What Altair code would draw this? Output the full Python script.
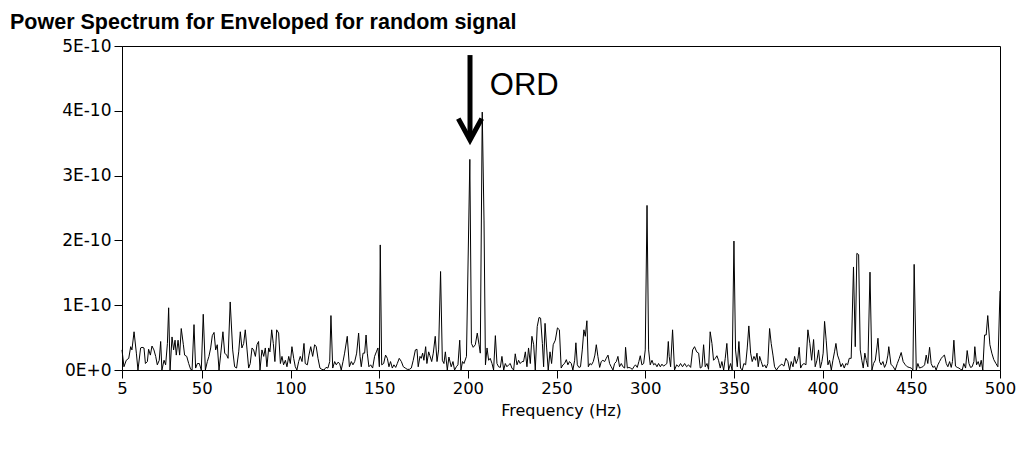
import altair as alt
import pandas as pd

title_text = "Power Spectrum for Enveloped for random signal"
x_title = "Frequency (Hz)"
x_ticks = [5, 50, 100, 150, 200, 250, 300, 350, 400, 450, 500]
y_ticks = [0, 1e-10, 2e-10, 3e-10, 4e-10, 5e-10]
unit = 1e-11  # spectrum values below are in units of 1E-11

seg_a = [(5.0, 3.1), (6.1, 0.5), (7.4, 1.5), (8.8, 1.8), (9.9, 3.6), (10.6, 3.1), (11.8, 5.9), (13.1, 2.6),
         (14.0, 0.0), (15.5, 3.4), (16.3, 3.5), (17.4, 3.4), (18.2, 1.0), (19.3, 1.3), (20.0, 3.2), (21.0, 2.3),
         (21.9, 3.7), (23.0, 3.1), (24.0, 2.1), (24.9, 0.8), (26.0, 1.5), (26.8, 4.4), (27.5, 0.0), (28.7, 1.5),
         (29.6, 0.8), (30.6, 4.1), (31.3, 9.6), (32.1, 0.0), (33.2, 5.1), (34.1, 3.1), (34.9, 4.6), (35.6, 2.3),
         (36.6, 4.6), (37.5, 2.3), (38.4, 6.4), (39.6, 3.9), (40.3, 2.3), (41.5, 2.1), (42.6, 1.0), (43.7, 0.1),
         (44.5, 0.0), (45.6, 7.0), (46.5, 0.3), (47.5, 1.0), (48.6, 1.0), (49.7, 0.0), (50.8, 8.6), (52.0, 0.0),
         (53.1, 1.3), (54.0, 2.1), (55.0, 3.4), (55.9, 5.3), (56.9, 5.8), (57.8, 3.1), (58.7, 3.9), (59.7, 0.0),
         (60.6, 2.3), (61.9, 5.9), (62.9, 2.6), (64.0, 2.3), (64.8, 1.8), (66.0, 10.5)]

seg_b = [(67.4, 3.1), (68.5, 0.5), (69.6, 0.3), (70.8, 2.8), (71.7, 5.9), (72.6, 3.4), (73.6, 4.1), (74.5, 6.2),
         (75.5, 3.1), (76.4, 0.3), (77.3, 1.0), (78.3, 3.4), (79.2, 3.1), (80.2, 2.1), (81.1, 3.9), (82.0, 4.4),
         (82.8, 0.0), (83.9, 3.1), (84.9, 2.1), (85.8, 3.4), (86.7, 0.5), (87.7, 3.4), (88.4, 2.8), (89.4, 6.2),
         (90.3, 4.1), (91.2, 1.3), (92.2, 6.2), (93.3, 5.7), (94.3, 1.0), (95.2, 2.1), (96.1, 0.8), (97.1, 1.5),
         (98.0, 0.5), (99.0, 2.1), (99.9, 1.0), (100.8, 3.6), (101.8, 1.8), (102.7, 0.5), (103.6, 0.0), (104.6, 1.3),
         (105.5, 2.1), (106.5, 1.3), (107.6, 4.1), (108.3, 1.0), (109.5, 0.8), (110.4, 2.3), (111.4, 3.6),
         (112.5, 2.1), (113.6, 3.9), (114.5, 3.6), (115.5, 1.8), (116.6, 0.3), (117.7, 0.1), (118.9, 0.0),
         (120.0, 0.4), (121.1, 0.3), (122.1, 1.3), (122.8, 8.4), (123.8, 0.3), (124.9, 1.3), (125.8, 0.8)]

seg_c = [(126.8, 1.2), (127.7, 1.0), (128.6, 0.0), (129.6, 1.3), (130.5, 2.6), (132.0, 5.2), (133.2, 0.5),
         (134.3, 1.3), (135.2, 0.8), (136.2, 1.3), (137.3, 2.6), (138.4, 5.7), (139.2, 2.1), (139.9, 0.5),
         (140.9, 2.6), (141.8, 2.6), (142.6, 5.4), (143.3, 2.6), (144.2, 0.5), (145.2, 0.8), (146.3, 0.3),
         (147.4, 2.1), (148.4, 2.8), (149.3, 3.4), (150.1, 0.5), (150.6, 19.3), (151.4, 0.8), (152.5, 1.0),
         (153.6, 2.3), (154.6, 1.8), (155.5, 0.5), (156.4, 1.3), (157.4, 0.3), (158.3, 0.8), (159.3, 0.4),
         (160.2, 1.0), (161.3, 1.8), (162.5, 1.3), (163.6, 0.5), (164.7, 0.3), (165.8, 0.1), (167.0, 0.1),
         (168.1, 0.3), (169.2, 1.5), (170.4, 3.1), (171.3, 3.2), (172.0, 0.5), (173.0, 2.1), (173.7, 1.8),
         (174.5, 2.6), (175.2, 1.5), (176.2, 3.6), (176.9, 1.0), (177.9, 2.8), (178.6, 2.2), (179.6, 1.3),
         (180.5, 2.6), (181.6, 5.2), (182.6, 1.3), (183.5, 3.1), (184.6, 15.2), (185.6, 1.5), (186.5, 1.0),
         (187.3, 2.8), (188.4, 0.0)]

seg_d = [(189.3, 2.0), (190.6, 0.5), (191.6, 1.3), (192.5, 0.0), (193.5, 0.5), (194.4, 0.8), (195.4, 4.6),
         (196.1, 0.0), (197.0, 1.3), (197.8, 1.0), (199.2, 2.1), (201.1, 32.5), (202.0, 4.1), (203.0, 3.5),
         (204.2, 3.9), (205.3, 5.7), (206.3, 3.9), (207.0, 2.6), (208.1, 39.8), (209.1, 23.0), (209.9, 0.8),
         (210.8, 3.4), (211.7, 1.5), (212.6, 1.8), (213.6, 1.0), (214.5, 0.0), (215.5, 5.3), (216.4, 1.0),
         (217.3, 0.5), (218.3, 0.4), (219.2, 2.1), (220.2, 0.0), (221.1, 1.0), (222.0, 0.5), (223.0, 0.8),
         (223.9, 1.0), (224.8, 0.3), (225.8, 0.0), (226.7, 2.5), (227.7, 0.8), (228.6, 1.5), (229.5, 1.0),
         (230.5, 1.3), (231.4, 1.3), (232.4, 2.8), (233.3, 0.5), (234.2, 3.4), (235.2, 1.0), (236.1, 5.2),
         (237.1, 3.9), (238.0, 0.0), (239.1, 6.7), (240.1, 8.1), (241.0, 8.0), (242.0, 4.1), (242.7, 0.5),
         (243.5, 7.2), (244.4, 3.4), (245.3, 0.0), (246.3, 2.8), (247.2, 1.0), (248.1, 3.9), (249.3, 4.6)]

seg_e = [(250.5, 6.5), (251.6, 6.2), (252.6, 0.3), (253.6, 0.8), (254.5, 1.0), (255.5, 1.6), (256.4, 0.8),
         (257.3, 1.3), (258.3, 1.0), (259.2, 0.0), (260.2, 1.5), (260.9, 4.2), (261.7, 0.8), (262.6, 0.4),
         (263.5, 0.5), (264.5, 3.1), (265.4, 6.2), (266.2, 5.2), (267.1, 7.6), (267.9, 0.5), (268.8, 1.0),
         (269.7, 0.8), (270.7, 1.3), (271.6, 2.3), (272.4, 3.9), (273.3, 2.1), (274.3, 0.4), (275.2, 1.3),
         (276.1, 1.5), (277.1, 1.3), (278.0, 1.8), (279.0, 2.3), (279.9, 1.0), (280.8, 0.5), (281.8, 0.0),
         (282.7, 1.0), (283.7, 1.3), (284.6, 2.1), (285.5, 0.5), (286.5, 1.0), (287.4, 0.5), (288.4, 0.3),
         (288.9, 3.5), (289.9, 0.3), (290.8, 0.4), (291.7, 0.3), (292.7, 0.1), (293.6, 0.5), (294.5, 0.8),
         (295.5, 0.4), (296.4, 1.3), (297.2, 2.2), (298.1, 0.8), (299.1, 1.0), (300.0, 3.1), (301.0, 25.4),
         (301.9, 3.1), (302.8, 0.8), (303.8, 1.5), (304.7, 0.8), (305.6, 1.0), (306.6, 0.5), (307.5, 1.0),
         (308.5, 0.5), (309.4, 0.9), (310.3, 0.6), (311.3, 0.8), (312.2, 1.0), (313.0, 4.4)]

seg_f = [(313.5, 2.1), (314.3, 0.5), (315.4, 6.2), (316.5, 0.0), (317.7, 0.8), (318.8, 0.5), (319.9, 1.0),
         (321.0, 0.5), (322.2, 1.0), (323.3, 0.5), (324.4, 0.8), (325.6, 0.4), (326.7, 3.1), (327.8, 3.6),
         (329.0, 2.8), (330.1, 2.6), (331.0, 0.3), (332.0, 0.5), (332.9, 3.9), (333.8, 0.5), (334.8, 1.0),
         (335.7, 0.1), (336.6, 5.9), (337.6, 4.1), (338.5, 1.5), (339.5, 1.8), (340.4, 2.2), (341.3, 1.5),
         (342.3, 0.3), (343.2, 1.3), (344.2, 0.0), (345.1, 1.8), (346.0, 4.1), (347.0, 0.0), (348.1, 1.0),
         (349.0, 0.0), (350.0, 19.9), (350.9, 3.1), (351.9, 0.5), (352.8, 4.4), (353.7, 0.3), (354.7, 0.0),
         (355.6, 1.0), (356.6, 0.8), (357.5, 3.4), (358.4, 6.8), (359.4, 2.6), (360.3, 1.3), (361.3, 2.1),
         (362.2, 1.5), (363.0, 2.6), (363.7, 0.5), (364.5, 2.1), (365.4, 1.3), (366.3, 0.5), (367.3, 0.8),
         (368.2, 0.3), (369.1, 1.0), (370.1, 6.4), (371.0, 4.1), (372.0, 2.3), (372.9, 0.5), (374.0, 0.0)]

seg_g = [(375.5, 0.6), (377.0, 0.9), (378.2, 0.6), (379.3, 1.8), (380.4, 1.3), (381.4, 0.0), (382.3, 1.3),
         (383.3, 0.5), (384.2, 2.1), (385.1, 1.0), (386.1, 1.8), (386.8, 3.5), (387.6, 0.3), (388.5, 0.8),
         (389.5, 1.0), (390.6, 0.8), (391.7, 6.2), (392.8, 4.1), (393.8, 1.5), (394.9, 4.7), (395.8, 0.5),
         (396.8, 1.5), (397.7, 3.1), (398.7, 0.3), (399.6, 1.3), (400.3, 2.6), (401.1, 7.5), (402.0, 4.6),
         (403.0, 0.8), (403.9, 1.5), (404.9, 0.0), (405.8, 1.5), (406.7, 2.8), (407.5, 4.1), (408.4, 2.3),
         (409.4, 1.5), (410.3, 0.5), (411.2, 1.0), (412.2, 0.3), (413.1, 1.0), (414.1, 0.8), (415.0, 1.8),
         (416.1, 1.8), (417.4, 15.9), (418.4, 3.6), (419.3, 18.0), (420.3, 17.8), (421.2, 3.1), (422.1, 1.5),
         (422.9, 0.3), (423.8, 2.6), (424.6, 1.5), (425.5, 0.5), (426.7, 15.1), (427.8, 0.0), (428.7, 1.0),
         (429.7, 1.5), (430.6, 3.4), (431.2, 4.9), (432.1, 1.3), (433.0, 0.8), (434.0, 1.3), (434.9, 0.4),
         (435.9, 1.0), (436.8, 2.3)]

seg_h = [(437.3, 3.6), (438.5, 0.9), (439.8, 0.5), (440.9, 0.0), (442.1, 1.0), (443.2, 1.8), (444.3, 2.7),
         (445.4, 1.3), (446.6, 0.8), (447.7, 0.5), (448.8, 0.4), (450.0, 0.3), (450.9, 0.0), (451.6, 16.3),
         (452.8, 0.0), (453.7, 1.0), (454.6, 0.3), (455.6, 0.4), (456.5, 0.5), (457.5, 0.8), (458.4, 2.3),
         (459.3, 1.0), (460.3, 3.5), (461.2, 1.0), (462.2, 0.4), (463.1, 0.6), (464.0, 0.0), (465.0, 0.8),
         (465.9, 1.3), (466.9, 1.8), (467.8, 2.1), (468.7, 2.3), (469.7, 1.0), (470.6, 0.5), (471.6, 1.3),
         (472.5, 0.4), (473.2, 1.3), (474.0, 4.6), (474.9, 0.6), (475.9, 0.4), (476.8, 0.3), (477.8, 0.1),
         (478.7, 0.0), (479.6, 1.0), (480.6, 0.3), (481.5, 3.0), (482.5, 1.0), (483.4, 0.4), (484.3, 0.5),
         (485.3, 1.3), (485.8, 3.6), (486.8, 0.8), (487.7, 1.3), (488.6, 0.5), (489.4, 1.5), (490.3, 0.0),
         (491.3, 5.4), (492.2, 5.4), (493.1, 8.4), (494.3, 3.9), (495.4, 2.6), (496.5, 1.6), (497.7, 1.0),
         (498.8, 0.5), (500.0, 12.2)]

# annotation: arrow (shaft top/tip, arrowhead wings) and label, in data units
arrow_shaft_x = [201.2]
arrow_shaft_top = [4.86e-10]
arrow_shaft_tip = [3.58e-10]
arrow_head_x = [194.6, 201.2, 207.8]
arrow_head_y = [3.88e-10, 3.55e-10, 3.88e-10]
ord_label = ["ORD"]
ord_x = [212.4]
ord_y = [4.24e-10]

segments = [seg_a, seg_b, seg_c, seg_d, seg_e, seg_f, seg_g, seg_h]
rows = [(f, p * unit) for seg in segments for f, p in seg]
df = pd.DataFrame(rows, columns=["freq", "power"])

shaft_df = pd.DataFrame({"freq": arrow_shaft_x, "power": arrow_shaft_top, "power2": arrow_shaft_tip})
head_df = pd.DataFrame({"freq": arrow_head_x, "power": arrow_head_y, "k": [0, 1, 2]})
ord_df = pd.DataFrame({"freq": ord_x, "power": ord_y, "label": ord_label})
title_df = pd.DataFrame({"t": [title_text]})

axis_font = "DejaVu Sans"

x_enc = alt.X(
    "freq:Q",
    scale=alt.Scale(domain=[5, 500], nice=False, zero=False),
    axis=alt.Axis(values=x_ticks, title=x_title, grid=False, tickSize=8, labelPadding=2,
                  labelFontSize=16.5, titleFontSize=16, titleFontWeight="normal", titlePadding=6,
                  labelFont=axis_font, titleFont=axis_font, labelColor="black", titleColor="black",
                  domainColor="black", tickColor="black", labelFlush=False),
)
y_enc = alt.Y(
    "power:Q",
    scale=alt.Scale(domain=[0, 5e-10], nice=False),
    axis=alt.Axis(values=y_ticks, title=None, grid=False, tickSize=8, labelPadding=3,
                  labelFontSize=17, labelFont=axis_font, labelColor="black",
                  domainColor="black", tickColor="black",
                  labelExpr="datum.value == 0 ? '0E+0' : round(datum.value * 1e10) + 'E-10'"),
)

line = alt.Chart(df).mark_line(color="black", strokeWidth=1).encode(x=x_enc, y=y_enc)

shaft = alt.Chart(shaft_df).mark_rule(color="black", strokeWidth=5).encode(
    x=x_enc, y=y_enc, y2="power2:Q")

head = alt.Chart(head_df).mark_line(color="black", strokeWidth=5, strokeJoin="miter").encode(
    x=x_enc, y=y_enc, order="k:O")

ord_text = alt.Chart(ord_df).mark_text(align="left", baseline="alphabetic", fontSize=31,
                                       font="Liberation Sans", color="black").encode(
    x=x_enc, y=y_enc, text="label:N")

title = alt.Chart(title_df).mark_text(align="left", baseline="alphabetic", fontSize=21.5,
                                      font="Liberation Sans",
                                      fontWeight="bold", color="black").encode(
    x=alt.value(-112), y=alt.value(-17), text="t:N")

chart = alt.layer(line, shaft, head, ord_text, title).properties(
    width=878, height=324,
    padding={"left": 114, "top": 38, "right": 16, "bottom": 70},
    autosize=alt.AutoSizeParams(type="none"),
).configure_view(stroke="black", strokeWidth=1)

chart.save("out.html", embed_options={"renderer": "svg", "actions": False})
